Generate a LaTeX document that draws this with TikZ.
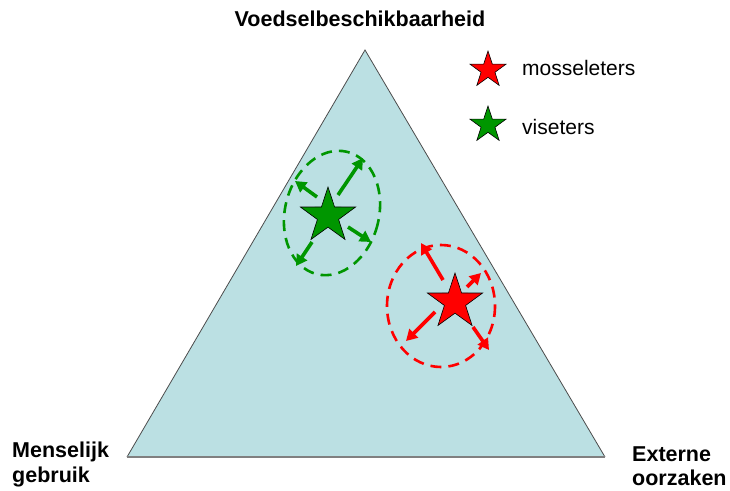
\documentclass[tikz,border=0pt]{standalone}
\usepackage{fontspec}
\setmainfont{Liberation Sans}
\usetikzlibrary{shapes.geometric,arrows.meta}
\definecolor{tri}{RGB}{187,224,227}
\definecolor{gr}{RGB}{0,150,0}
\definecolor{rd}{RGB}{255,0,0}
\tikzset{
  starnode/.style={star, star points=5, star point ratio=2.6, minimum size=#1, inner sep=0pt, draw=black, line width=0.6pt},
  lab/.style={font=\fontsize{21.5}{24.5}\selectfont\bfseries, align=left, inner sep=0pt},
  leg/.style={font=\fontsize{21}{25}\selectfont, anchor=west, inner sep=0pt},
  grarrow/.style={draw=gr, line width=3.6pt, -{Triangle[length=11pt,width=12pt]}},
  rdarrow/.style={draw=rd, line width=3.6pt, -{Triangle[length=11pt,width=12pt]}},
  dashell/.style={dash pattern=on 11pt off 7pt, line width=2.6pt}
}
\begin{document}
\begin{tikzpicture}[x=1pt,y=-1pt]
\useasboundingbox (0,0) rectangle (730,490);
% triangle
\coordinate (A) at (365,50);
\coordinate (B) at (127,457);
\coordinate (C) at (605,457);
\fill[tri] (A) -- (B) -- (C) -- cycle;
\draw[gray!60!black, line width=0.8pt] (B) -- (A) -- (C);
\draw[gray, line width=2pt] (B) -- (C);
% labels
\node[lab, anchor=center] (top) at (360,19) {Voedselbeschikbaarheid};
\node[lab, anchor=north west] (left) at (12,442) {Menselijk\\gebruik};
\node[lab, anchor=north west] (right) at (632,446) {Externe\\oorzaken};
% legend
\node[starnode=38pt, fill=rd] (ls1) at (488,70) {};
\node[leg] (lt1) at (522,68) {mosseleters};
\node[starnode=38pt, fill=gr] (ls2) at (488,125) {};
\node[leg] (lt2) at (522,127) {viseters};
% green group
\draw[gr, dashell, rotate around={-14:(332,213)}] (332,213) ellipse (47 and 63);
\node[starnode=58pt, fill=gr] (gs) at (328,216) {};
\coordinate (g1s) at (338,195); \coordinate (g1e) at (363,158);
\coordinate (g2s) at (317,197); \coordinate (g2e) at (295,181);
\coordinate (g3s) at (348,227); \coordinate (g3e) at (371,242);
\coordinate (g4s) at (312,242); \coordinate (g4e) at (296,266);
\draw[grarrow] (g1s) -- (g1e);
\draw[grarrow] (g2s) -- (g2e);
\draw[grarrow] (g3s) -- (g3e);
\draw[grarrow] (g4s) -- (g4e);
% red group
\draw[rd, dashell] (441,306) ellipse (54 and 61);
\node[starnode=58pt, fill=rd] (rs) at (455,302) {};
\coordinate (r1s) at (443,280); \coordinate (r1e) at (421,243);
\coordinate (r2s) at (467,287); \coordinate (r2e) at (481,273);
\coordinate (r3s) at (435,312); \coordinate (r3e) at (406,341);
\coordinate (r4s) at (473,327); \coordinate (r4e) at (489,350);
\draw[rdarrow] (r1s) -- (r1e);
\draw[rdarrow] (r2s) -- (r2e);
\draw[rdarrow] (r3s) -- (r3e);
\draw[rdarrow] (r4s) -- (r4e);
\end{tikzpicture}
\end{document}
